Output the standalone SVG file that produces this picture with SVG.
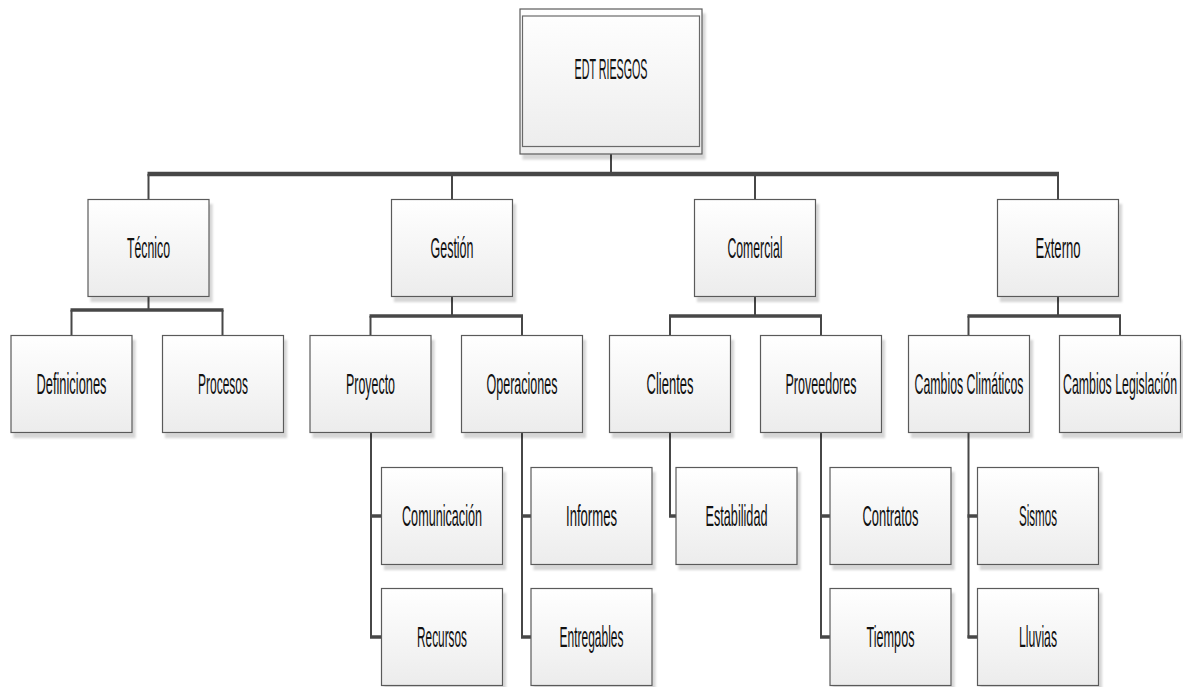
<svg xmlns="http://www.w3.org/2000/svg" width="1183" height="687" viewBox="0 0 1183 687">
  <defs>
    <linearGradient id="boxFill" x1="0" y1="0" x2="0" y2="1">
      <stop offset="0" stop-color="#ffffff"/>
      <stop offset="1" stop-color="#ececec"/>
    </linearGradient>
    <filter id="shadow" x="-10%" y="-10%" width="130%" height="130%">
      <feDropShadow dx="3" dy="5" stdDeviation="1" flood-color="#000000" flood-opacity="0.16"/>
    </filter>
    <style>
      .box { fill: url(#boxFill); stroke: #5a5a5a; stroke-width: 1.2; }
      .shadowed { filter: url(#shadow); }
      .inner { fill: none; stroke: #6a6a6a; stroke-width: 1.2; }
      /* condensed labels: glyphs are squeezed horizontally by the transform */
      .label { font-family: "Liberation Sans", Arial, sans-serif; font-size: 30px; fill: #111111; text-anchor: middle; }
      .thin { fill: none; stroke: #474747; stroke-width: 2; }
      .bar { fill: none; stroke: #474747; stroke-width: 3.5; }
      .topbar { fill: none; stroke: #474747; stroke-width: 4.5; }
    </style>
  </defs>
  <rect width="1183" height="687" fill="#ffffff"/>

  <!-- connectors -->
  <g id="connectors">
    <!-- root to level 1 -->
    <line class="thin" x1="611" y1="154" x2="611" y2="174"/>
    <line class="topbar" x1="147.5" y1="174" x2="1059" y2="174"/>
    <line class="thin" x1="148.5" y1="174" x2="148.5" y2="200"/>
    <line class="thin" x1="452" y1="174" x2="452" y2="200"/>
    <line class="thin" x1="755" y1="174" x2="755" y2="200"/>
    <line class="thin" x1="1058" y1="174" x2="1058" y2="200"/>

    <!-- Técnico -->
    <line class="thin" x1="148.5" y1="296.5" x2="148.5" y2="310"/>
    <line class="bar" x1="70.5" y1="310" x2="223.5" y2="310"/>
    <line class="thin" x1="71.5" y1="310" x2="71.5" y2="336"/>
    <line class="thin" x1="222.5" y1="310" x2="222.5" y2="336"/>

    <!-- Gestión -->
    <line class="thin" x1="452" y1="296.5" x2="452" y2="316"/>
    <line class="bar" x1="369.5" y1="316" x2="523" y2="316"/>
    <line class="thin" x1="370.5" y1="316" x2="370.5" y2="336"/>
    <line class="thin" x1="522" y1="316" x2="522" y2="336"/>

    <!-- Comercial -->
    <line class="thin" x1="755" y1="296.5" x2="755" y2="316"/>
    <line class="bar" x1="669" y1="316" x2="822" y2="316"/>
    <line class="thin" x1="670" y1="316" x2="670" y2="336"/>
    <line class="thin" x1="821" y1="316" x2="821" y2="336"/>

    <!-- Externo -->
    <line class="thin" x1="1058" y1="296.5" x2="1058" y2="316"/>
    <line class="bar" x1="967.5" y1="316" x2="1121" y2="316"/>
    <line class="thin" x1="968.5" y1="316" x2="968.5" y2="336"/>
    <line class="thin" x1="1120" y1="316" x2="1120" y2="336"/>

    <!-- Proyecto -->
    <line class="thin" x1="371" y1="432.5" x2="371" y2="638"/>
    <line class="bar" x1="370" y1="516" x2="382" y2="516"/>
    <line class="bar" x1="370" y1="637" x2="382" y2="637"/>

    <!-- Operaciones -->
    <line class="thin" x1="522" y1="432.5" x2="522" y2="638"/>
    <line class="bar" x1="521" y1="516" x2="531" y2="516"/>
    <line class="bar" x1="521" y1="637" x2="531" y2="637"/>

    <!-- Clientes -->
    <line class="thin" x1="670" y1="432.5" x2="670" y2="517"/>
    <line class="bar" x1="669" y1="516" x2="676" y2="516"/>

    <!-- Proveedores -->
    <line class="thin" x1="821" y1="432.5" x2="821" y2="638"/>
    <line class="bar" x1="820" y1="516" x2="830" y2="516"/>
    <line class="bar" x1="820" y1="637" x2="830" y2="637"/>

    <!-- Cambios Climáticos -->
    <line class="thin" x1="968.5" y1="432.5" x2="968.5" y2="638"/>
    <line class="bar" x1="967.5" y1="516" x2="977.5" y2="516"/>
    <line class="bar" x1="967.5" y1="637" x2="977.5" y2="637"/>
  </g>

  <!-- root -->
  <g id="node-edt-riesgos">
    <rect class="box shadowed" x="520" y="9" width="182" height="145"/>
    <rect class="inner" x="522.5" y="16" width="177" height="130.5"/>
    <text class="label" transform="translate(611 79) scale(0.44 1)" textLength="165.9" lengthAdjust="spacingAndGlyphs">EDT RIESGOS</text>
  </g>

  <!-- level 1 -->
  <g id="node-tecnico">
    <rect class="box shadowed" x="88" y="199.5" width="121" height="97"/>
    <text class="label" transform="translate(148.5 258) scale(0.44 1)" textLength="97.7" lengthAdjust="spacingAndGlyphs">Técnico</text>
  </g>
  <g id="node-gestion">
    <rect class="box shadowed" x="391.5" y="199.5" width="121" height="97"/>
    <text class="label" transform="translate(452 258) scale(0.44 1)" textLength="97.7" lengthAdjust="spacingAndGlyphs">Gestión</text>
  </g>
  <g id="node-comercial">
    <rect class="box shadowed" x="694.5" y="199.5" width="121" height="97"/>
    <text class="label" transform="translate(755 258) scale(0.44 1)" textLength="125" lengthAdjust="spacingAndGlyphs">Comercial</text>
  </g>
  <g id="node-externo">
    <rect class="box shadowed" x="997.5" y="199.5" width="121" height="97"/>
    <text class="label" transform="translate(1058 258) scale(0.44 1)" textLength="102.3" lengthAdjust="spacingAndGlyphs">Externo</text>
  </g>

  <!-- level 2 -->
  <g id="node-definiciones">
    <rect class="box shadowed" x="11" y="335.5" width="121" height="97"/>
    <text class="label" transform="translate(71.5 394) scale(0.44 1)" textLength="159.1" lengthAdjust="spacingAndGlyphs">Definiciones</text>
  </g>
  <g id="node-procesos">
    <rect class="box shadowed" x="162.5" y="335.5" width="121" height="97"/>
    <text class="label" transform="translate(223 394) scale(0.44 1)" textLength="113.6" lengthAdjust="spacingAndGlyphs">Procesos</text>
  </g>
  <g id="node-proyecto">
    <rect class="box shadowed" x="310" y="335.5" width="121" height="97"/>
    <text class="label" transform="translate(370.5 394) scale(0.44 1)" textLength="111.4" lengthAdjust="spacingAndGlyphs">Proyecto</text>
  </g>
  <g id="node-operaciones">
    <rect class="box shadowed" x="461.5" y="335.5" width="121" height="97"/>
    <text class="label" transform="translate(522 394) scale(0.44 1)" textLength="161.4" lengthAdjust="spacingAndGlyphs">Operaciones</text>
  </g>
  <g id="node-clientes">
    <rect class="box shadowed" x="609.5" y="335.5" width="121" height="97"/>
    <text class="label" transform="translate(670 394) scale(0.44 1)" textLength="106.8" lengthAdjust="spacingAndGlyphs">Clientes</text>
  </g>
  <g id="node-proveedores">
    <rect class="box shadowed" x="760.5" y="335.5" width="121" height="97"/>
    <text class="label" transform="translate(821 394) scale(0.44 1)" textLength="161.4" lengthAdjust="spacingAndGlyphs">Proveedores</text>
  </g>
  <g id="node-cambios-climaticos">
    <rect class="box shadowed" x="908.5" y="335.5" width="121" height="97"/>
    <text class="label" transform="translate(969 394) scale(0.44 1)" textLength="247.7" lengthAdjust="spacingAndGlyphs">Cambios Climáticos</text>
  </g>
  <g id="node-cambios-legislacion">
    <rect class="box shadowed" x="1059.5" y="335.5" width="121" height="97"/>
    <text class="label" transform="translate(1120 394) scale(0.44 1)" textLength="259.1" lengthAdjust="spacingAndGlyphs">Cambios Legislación</text>
  </g>

  <!-- level 3 -->
  <g id="node-comunicacion">
    <rect class="box shadowed" x="381.5" y="467.5" width="121" height="97"/>
    <text class="label" transform="translate(442 526) scale(0.44 1)" textLength="181.8" lengthAdjust="spacingAndGlyphs">Comunicación</text>
  </g>
  <g id="node-recursos">
    <rect class="box shadowed" x="381.5" y="588.5" width="121" height="97"/>
    <text class="label" transform="translate(442 647) scale(0.44 1)" textLength="113.6" lengthAdjust="spacingAndGlyphs">Recursos</text>
  </g>
  <g id="node-informes">
    <rect class="box shadowed" x="531" y="467.5" width="121" height="97"/>
    <text class="label" transform="translate(591.5 526) scale(0.44 1)" textLength="115.9" lengthAdjust="spacingAndGlyphs">Informes</text>
  </g>
  <g id="node-entregables">
    <rect class="box shadowed" x="531" y="588.5" width="121" height="97"/>
    <text class="label" transform="translate(591.5 647) scale(0.44 1)" textLength="145.5" lengthAdjust="spacingAndGlyphs">Entregables</text>
  </g>
  <g id="node-estabilidad">
    <rect class="box shadowed" x="676" y="467.5" width="121" height="97"/>
    <text class="label" transform="translate(736.5 526) scale(0.44 1)" textLength="140.9" lengthAdjust="spacingAndGlyphs">Estabilidad</text>
  </g>
  <g id="node-contratos">
    <rect class="box shadowed" x="830" y="467.5" width="121" height="97"/>
    <text class="label" transform="translate(890.5 526) scale(0.44 1)" textLength="127.3" lengthAdjust="spacingAndGlyphs">Contratos</text>
  </g>
  <g id="node-tiempos">
    <rect class="box shadowed" x="830" y="588.5" width="121" height="97"/>
    <text class="label" transform="translate(890.5 647) scale(0.44 1)" textLength="109.1" lengthAdjust="spacingAndGlyphs">Tiempos</text>
  </g>
  <g id="node-sismos">
    <rect class="box shadowed" x="977.5" y="467.5" width="121" height="97"/>
    <text class="label" transform="translate(1038 526) scale(0.44 1)" textLength="86.4" lengthAdjust="spacingAndGlyphs">Sismos</text>
  </g>
  <g id="node-lluvias">
    <rect class="box shadowed" x="977.5" y="588.5" width="121" height="97"/>
    <text class="label" transform="translate(1038 647) scale(0.44 1)" textLength="86.4" lengthAdjust="spacingAndGlyphs">Lluvias</text>
  </g>
</svg>
